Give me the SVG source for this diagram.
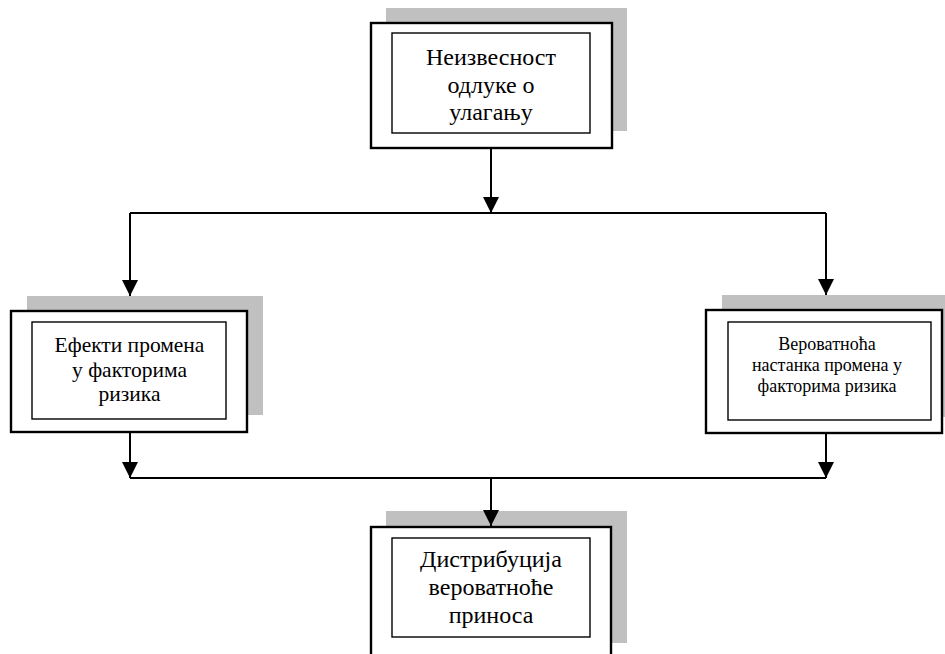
<svg xmlns="http://www.w3.org/2000/svg" width="945" height="654" viewBox="0 0 945 654">
<style>
.shadow{fill:#c0c0c0;stroke:none}
.outer{fill:#fff;stroke:#000;stroke-width:2.4}
.inner{fill:#fff;stroke:#000;stroke-width:1.4}
.conn{fill:none;stroke:#000;stroke-width:2}
.t{font-family:'Liberation Serif','Times New Roman','DejaVu Serif',serif;fill:#000;text-anchor:middle}
.big{font-size:24px}
.mid{font-size:21.5px}
.small{font-size:18px}
</style>
<defs>
<marker id="arr" viewBox="0 0 16 16" refX="16" refY="8" markerWidth="16" markerHeight="16" markerUnits="userSpaceOnUse" orient="auto">
<path d="M0,0 L16,8 L0,16 z" fill="#000"/>
</marker>
</defs>
<rect width="945" height="654" fill="#fff"/>
<g id="node-top">
<rect class="shadow" x="386" y="8" width="241" height="123"/>
<rect class="outer" x="371" y="23" width="241" height="125"/>
<rect class="inner" x="392" y="33" width="198" height="100"/>
<text class="t big" x="491" y="65">Неизвесност</text>
<text class="t big" x="491" y="92.5">одлуке о</text>
<text class="t big" x="491" y="120">улагању</text>
</g>
<g id="node-left">
<rect class="shadow" x="27" y="296" width="236" height="119"/>
<rect class="outer" x="11" y="311" width="236" height="121"/>
<rect class="inner" x="32" y="322" width="194" height="97"/>
<text class="t mid" x="129.5" y="352">Ефекти промена</text>
<text class="t mid" x="129.5" y="377">у факторима</text>
<text class="t mid" x="129.5" y="401">ризика</text>
</g>
<g id="node-right">
<rect class="shadow" x="722" y="295" width="236" height="122"/>
<rect class="outer" x="706" y="310" width="236" height="123"/>
<rect class="inner" x="728" y="322" width="203" height="98"/>
<text class="t small" x="827" y="350">Вероватноћа</text>
<text class="t small" x="827" y="371">настанка промена у</text>
<text class="t small" x="827" y="392">факторима ризика</text>
</g>
<g id="node-bottom">
<rect class="shadow" x="386" y="511" width="241" height="132"/>
<rect class="outer" x="371" y="527" width="240" height="140"/>
<rect class="inner" x="392" y="538" width="198" height="99"/>
<text class="t big" x="491" y="567">Дистрибуција</text>
<text class="t big" x="491" y="595">вероватноће</text>
<text class="t big" x="491" y="623">приноса</text>
</g>
<g id="connectors">
<path class="conn" d="M491,148 V213" marker-end="url(#arr)"/>
<path class="conn" d="M130,213 H826"/>
<path class="conn" d="M130,213 V296" marker-end="url(#arr)"/>
<path class="conn" d="M826,213 V295" marker-end="url(#arr)"/>
<path class="conn" d="M130,432 V478" marker-end="url(#arr)"/>
<path class="conn" d="M826,433 V478" marker-end="url(#arr)"/>
<path class="conn" d="M130,478 H826"/>
<path class="conn" d="M491,478 V526" marker-end="url(#arr)"/>
</g>
</svg>
